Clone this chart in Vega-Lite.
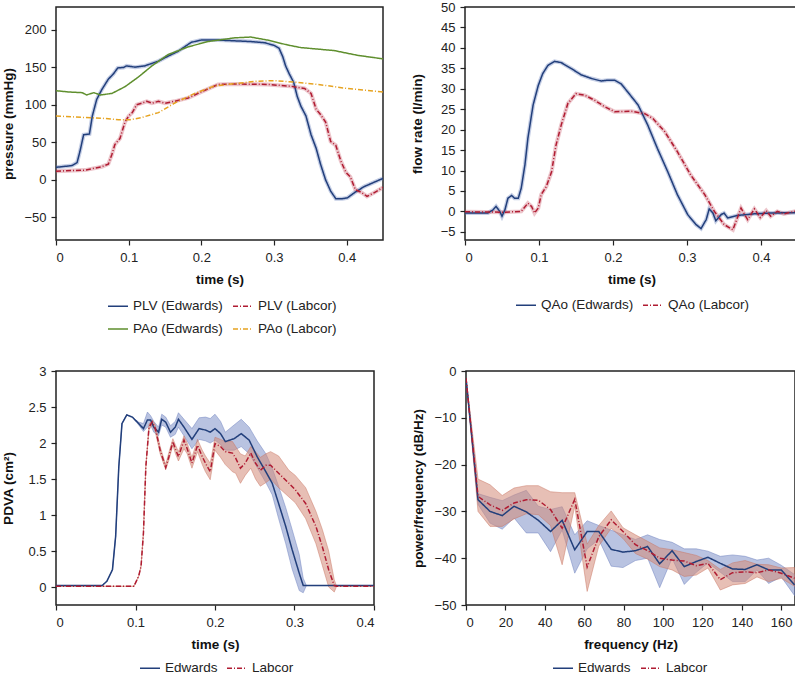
{
 "$schema": "https://vega.github.io/schema/vega-lite/v6.json",
 "padding": {"left": 0, "top": 0, "right": 2, "bottom": 0},
 "background": "white",
 "config": {
  "font": "Liberation Sans",
  "view": {"stroke": "#222", "strokeWidth": 1.5},
  "axis": {"grid": false, "domain": false, "tickColor": "#222", "tickSize": 5, "tickWidth": 1.2, "labelFontSize": 13, "labelColor": "#222", "labelFont": "Liberation Sans", "titleFont": "Liberation Sans", "titleFontSize": 13.5, "titleFontWeight": "bold", "titleColor": "#111", "labelPadding": 5},
  "axisY": {"minExtent": 37, "titlePadding": 4},
  "axisX": {"titlePadding": 8, "labelPadding": 6},
  "legend": {"labelFontSize": 13.5, "labelColor": "#222", "labelFont": "Liberation Sans", "symbolType": "stroke", "symbolSize": 400, "symbolStrokeWidth": 1.6, "labelOffset": 4}
 },
 "resolve": {"scale": {"color": "independent", "strokeDash": "independent"}},
 "spacing": 27,
 "vconcat": [
  {
   "spacing": 25,
   "resolve": {"scale": {"color": "independent", "strokeDash": "independent"}},
   "hconcat": [
    {
     "width": 327, "height": 233,
     "data": {"values": [
      {"s":"PLV (Edwards)","t":0,"v":16.7},{"s":"PLV (Edwards)","t":0.022,"v":19},{"s":"PLV (Edwards)","t":0.029,"v":23},{"s":"PLV (Edwards)","t":0.033,"v":38},{"s":"PLV (Edwards)","t":0.038,"v":60},{"s":"PLV (Edwards)","t":0.046,"v":61},{"s":"PLV (Edwards)","t":0.05,"v":85},{"s":"PLV (Edwards)","t":0.056,"v":107},{"s":"PLV (Edwards)","t":0.063,"v":120},{"s":"PLV (Edwards)","t":0.072,"v":134},{"s":"PLV (Edwards)","t":0.079,"v":141},{"s":"PLV (Edwards)","t":0.085,"v":149},{"s":"PLV (Edwards)","t":0.093,"v":149.5},{"s":"PLV (Edwards)","t":0.097,"v":151.6},{"s":"PLV (Edwards)","t":0.109,"v":150},{"s":"PLV (Edwards)","t":0.122,"v":151.6},{"s":"PLV (Edwards)","t":0.141,"v":158},{"s":"PLV (Edwards)","t":0.154,"v":164.5},{"s":"PLV (Edwards)","t":0.168,"v":171},{"s":"PLV (Edwards)","t":0.177,"v":177},{"s":"PLV (Edwards)","t":0.186,"v":183},{"s":"PLV (Edwards)","t":0.2,"v":186},{"s":"PLV (Edwards)","t":0.223,"v":186},{"s":"PLV (Edwards)","t":0.246,"v":185},{"s":"PLV (Edwards)","t":0.268,"v":184},{"s":"PLV (Edwards)","t":0.287,"v":182.5},{"s":"PLV (Edwards)","t":0.3,"v":179},{"s":"PLV (Edwards)","t":0.307,"v":175},{"s":"PLV (Edwards)","t":0.312,"v":164},{"s":"PLV (Edwards)","t":0.316,"v":151.6},{"s":"PLV (Edwards)","t":0.321,"v":141},{"s":"PLV (Edwards)","t":0.327,"v":130},{"s":"PLV (Edwards)","t":0.332,"v":111},{"s":"PLV (Edwards)","t":0.337,"v":98},{"s":"PLV (Edwards)","t":0.344,"v":85},{"s":"PLV (Edwards)","t":0.351,"v":60},{"s":"PLV (Edwards)","t":0.358,"v":42},{"s":"PLV (Edwards)","t":0.364,"v":21},{"s":"PLV (Edwards)","t":0.371,"v":0},{"s":"PLV (Edwards)","t":0.378,"v":-15},{"s":"PLV (Edwards)","t":0.385,"v":-25},{"s":"PLV (Edwards)","t":0.394,"v":-25},{"s":"PLV (Edwards)","t":0.401,"v":-24},{"s":"PLV (Edwards)","t":0.41,"v":-17.5},{"s":"PLV (Edwards)","t":0.424,"v":-9},{"s":"PLV (Edwards)","t":0.45,"v":2},
      {"s":"PLV (Labcor)","t":0,"v":11.6},{"s":"PLV (Labcor)","t":0.04,"v":13},{"s":"PLV (Labcor)","t":0.063,"v":17.5},{"s":"PLV (Labcor)","t":0.072,"v":21},{"s":"PLV (Labcor)","t":0.077,"v":34},{"s":"PLV (Labcor)","t":0.081,"v":47},{"s":"PLV (Labcor)","t":0.088,"v":55},{"s":"PLV (Labcor)","t":0.095,"v":77},{"s":"PLV (Labcor)","t":0.1,"v":85},{"s":"PLV (Labcor)","t":0.105,"v":89.5},{"s":"PLV (Labcor)","t":0.111,"v":100},{"s":"PLV (Labcor)","t":0.118,"v":102},{"s":"PLV (Labcor)","t":0.125,"v":104.5},{"s":"PLV (Labcor)","t":0.132,"v":102},{"s":"PLV (Labcor)","t":0.141,"v":104.5},{"s":"PLV (Labcor)","t":0.15,"v":102},{"s":"PLV (Labcor)","t":0.163,"v":104.5},{"s":"PLV (Labcor)","t":0.182,"v":109},{"s":"PLV (Labcor)","t":0.2,"v":117},{"s":"PLV (Labcor)","t":0.223,"v":127},{"s":"PLV (Labcor)","t":0.246,"v":127.6},{"s":"PLV (Labcor)","t":0.291,"v":127},{"s":"PLV (Labcor)","t":0.323,"v":124.6},{"s":"PLV (Labcor)","t":0.342,"v":121.6},{"s":"PLV (Labcor)","t":0.351,"v":115},{"s":"PLV (Labcor)","t":0.358,"v":94},{"s":"PLV (Labcor)","t":0.364,"v":87},{"s":"PLV (Labcor)","t":0.371,"v":77},{"s":"PLV (Labcor)","t":0.378,"v":51},{"s":"PLV (Labcor)","t":0.385,"v":46},{"s":"PLV (Labcor)","t":0.392,"v":25},{"s":"PLV (Labcor)","t":0.399,"v":10},{"s":"PLV (Labcor)","t":0.405,"v":4},{"s":"PLV (Labcor)","t":0.412,"v":-13},{"s":"PLV (Labcor)","t":0.421,"v":-17},{"s":"PLV (Labcor)","t":0.428,"v":-22},{"s":"PLV (Labcor)","t":0.437,"v":-17.5},{"s":"PLV (Labcor)","t":0.45,"v":-10},
      {"s":"PAo (Edwards)","t":0,"v":118.6},{"s":"PAo (Edwards)","t":0.017,"v":117},{"s":"PAo (Edwards)","t":0.036,"v":116},{"s":"PAo (Edwards)","t":0.042,"v":113},{"s":"PAo (Edwards)","t":0.052,"v":116},{"s":"PAo (Edwards)","t":0.061,"v":113},{"s":"PAo (Edwards)","t":0.077,"v":115},{"s":"PAo (Edwards)","t":0.095,"v":124},{"s":"PAo (Edwards)","t":0.113,"v":136.6},{"s":"PAo (Edwards)","t":0.132,"v":151.6},{"s":"PAo (Edwards)","t":0.154,"v":166.6},{"s":"PAo (Edwards)","t":0.182,"v":177},{"s":"PAo (Edwards)","t":0.209,"v":184},{"s":"PAo (Edwards)","t":0.246,"v":189},{"s":"PAo (Edwards)","t":0.268,"v":190},{"s":"PAo (Edwards)","t":0.291,"v":186},{"s":"PAo (Edwards)","t":0.319,"v":179.4},{"s":"PAo (Edwards)","t":0.337,"v":176},{"s":"PAo (Edwards)","t":0.383,"v":172},{"s":"PAo (Edwards)","t":0.415,"v":165.7},{"s":"PAo (Edwards)","t":0.45,"v":161},
      {"s":"PAo (Labcor)","t":0,"v":85},{"s":"PAo (Labcor)","t":0.04,"v":83},{"s":"PAo (Labcor)","t":0.063,"v":82},{"s":"PAo (Labcor)","t":0.086,"v":80},{"s":"PAo (Labcor)","t":0.102,"v":80},{"s":"PAo (Labcor)","t":0.118,"v":83},{"s":"PAo (Labcor)","t":0.141,"v":89.5},{"s":"PAo (Labcor)","t":0.163,"v":102},{"s":"PAo (Labcor)","t":0.191,"v":115},{"s":"PAo (Labcor)","t":0.218,"v":125},{"s":"PAo (Labcor)","t":0.246,"v":128},{"s":"PAo (Labcor)","t":0.273,"v":131},{"s":"PAo (Labcor)","t":0.3,"v":132},{"s":"PAo (Labcor)","t":0.328,"v":130},{"s":"PAo (Labcor)","t":0.36,"v":127},{"s":"PAo (Labcor)","t":0.401,"v":121.6},{"s":"PAo (Labcor)","t":0.45,"v":117}
     ]},
     "encoding": {
      "x": {"field": "t", "type": "quantitative", "scale": {"domain": [0, 0.45], "nice": false}, "axis": {"values": [0, 0.1, 0.2, 0.3, 0.4], "format": "~g", "title": "time (s)"}},
      "y": {"field": "v", "type": "quantitative", "scale": {"domain": [-80, 230], "nice": false, "zero": false}, "axis": {"values": [-50, 0, 50, 100, 150, 200], "title": "pressure (mmHg)"}}
     },
     "layer": [
      {"transform": [{"filter": "datum.s == 'PLV (Edwards)'"}],
       "mark": {"type": "line", "strokeWidth": 4, "opacity": 0.35, "clip": true, "stroke": "#5a73b5"}},
      {"transform": [{"filter": "datum.s == 'PLV (Labcor)'"}],
       "mark": {"type": "line", "strokeWidth": 4, "opacity": 0.35, "clip": true, "stroke": "#c85a6a"}},
      {"mark": {"type": "line", "strokeWidth": 1.5, "clip": true},
       "encoding": {
        "color": {"field": "s", "type": "nominal", "scale": {"domain": ["PLV (Edwards)", "PAo (Edwards)", "PLV (Labcor)", "PAo (Labcor)"], "range": ["#223f7b", "#5f8f2e", "#b01c32", "#e6a321"]}, "legend": {"title": null, "orient": "none", "legendX": 51, "legendY": 288, "columns": 2, "columnPadding": 6, "rowPadding": 5}},
        "strokeDash": {"field": "s", "type": "nominal", "scale": {"domain": ["PLV (Edwards)", "PAo (Edwards)", "PLV (Labcor)", "PAo (Labcor)"], "range": [[1, 0], [1, 0], [5, 2, 1, 2], [5, 2, 1, 2]]}, "legend": {"title": null, "orient": "none", "legendX": 51, "legendY": 288, "columns": 2, "columnPadding": 6, "rowPadding": 5}}
       }}
     ]
    },
    {
     "width": 333, "height": 233,
     "data": {"values": [
      {"s":"QAo (Edwards)","t":0,"v":-0.4},{"s":"QAo (Edwards)","t":0.031,"v":-0.4},{"s":"QAo (Edwards)","t":0.038,"v":0.4},{"s":"QAo (Edwards)","t":0.042,"v":1.2},{"s":"QAo (Edwards)","t":0.047,"v":0},{"s":"QAo (Edwards)","t":0.05,"v":-1.2},{"s":"QAo (Edwards)","t":0.054,"v":0.4},{"s":"QAo (Edwards)","t":0.058,"v":3.2},{"s":"QAo (Edwards)","t":0.063,"v":3.9},{"s":"QAo (Edwards)","t":0.067,"v":3.2},{"s":"QAo (Edwards)","t":0.072,"v":3.2},{"s":"QAo (Edwards)","t":0.076,"v":5.7},{"s":"QAo (Edwards)","t":0.081,"v":11.4},{"s":"QAo (Edwards)","t":0.085,"v":17.9},{"s":"QAo (Edwards)","t":0.092,"v":26},{"s":"QAo (Edwards)","t":0.099,"v":30.8},{"s":"QAo (Edwards)","t":0.105,"v":33.7},{"s":"QAo (Edwards)","t":0.112,"v":35.7},{"s":"QAo (Edwards)","t":0.121,"v":36.7},{"s":"QAo (Edwards)","t":0.13,"v":36.4},{"s":"QAo (Edwards)","t":0.144,"v":34.9},{"s":"QAo (Edwards)","t":0.157,"v":33.4},{"s":"QAo (Edwards)","t":0.171,"v":32.5},{"s":"QAo (Edwards)","t":0.184,"v":31.9},{"s":"QAo (Edwards)","t":0.193,"v":32.1},{"s":"QAo (Edwards)","t":0.202,"v":32.1},{"s":"QAo (Edwards)","t":0.211,"v":31.2},{"s":"QAo (Edwards)","t":0.22,"v":29.2},{"s":"QAo (Edwards)","t":0.234,"v":26},{"s":"QAo (Edwards)","t":0.247,"v":21.1},{"s":"QAo (Edwards)","t":0.26,"v":15.4},{"s":"QAo (Edwards)","t":0.274,"v":9.7},{"s":"QAo (Edwards)","t":0.287,"v":4.1},{"s":"QAo (Edwards)","t":0.301,"v":-0.8},{"s":"QAo (Edwards)","t":0.312,"v":-3.2},{"s":"QAo (Edwards)","t":0.319,"v":-4.2},{"s":"QAo (Edwards)","t":0.326,"v":-2},{"s":"QAo (Edwards)","t":0.33,"v":0.6},{"s":"QAo (Edwards)","t":0.335,"v":-0.4},{"s":"QAo (Edwards)","t":0.339,"v":-2.3},{"s":"QAo (Edwards)","t":0.346,"v":-0.8},{"s":"QAo (Edwards)","t":0.35,"v":-0.4},{"s":"QAo (Edwards)","t":0.355,"v":-1.6},{"s":"QAo (Edwards)","t":0.368,"v":-1},{"s":"QAo (Edwards)","t":0.391,"v":-0.6},{"s":"QAo (Edwards)","t":0.413,"v":-0.4},{"s":"QAo (Edwards)","t":0.45,"v":-0.3},
      {"s":"QAo (Labcor)","t":0,"v":-0.1},{"s":"QAo (Labcor)","t":0.054,"v":-0.2},{"s":"QAo (Labcor)","t":0.076,"v":0},{"s":"QAo (Labcor)","t":0.085,"v":2},{"s":"QAo (Labcor)","t":0.09,"v":1.2},{"s":"QAo (Labcor)","t":0.094,"v":-0.4},{"s":"QAo (Labcor)","t":0.099,"v":0.8},{"s":"QAo (Labcor)","t":0.103,"v":4.1},{"s":"QAo (Labcor)","t":0.11,"v":6.1},{"s":"QAo (Labcor)","t":0.117,"v":9.7},{"s":"QAo (Labcor)","t":0.123,"v":16.2},{"s":"QAo (Labcor)","t":0.13,"v":21.1},{"s":"QAo (Labcor)","t":0.139,"v":26.4},{"s":"QAo (Labcor)","t":0.15,"v":28.8},{"s":"QAo (Labcor)","t":0.162,"v":28.4},{"s":"QAo (Labcor)","t":0.175,"v":27.2},{"s":"QAo (Labcor)","t":0.189,"v":25.6},{"s":"QAo (Labcor)","t":0.202,"v":24.4},{"s":"QAo (Labcor)","t":0.225,"v":24.5},{"s":"QAo (Labcor)","t":0.243,"v":23.9},{"s":"QAo (Labcor)","t":0.254,"v":22.7},{"s":"QAo (Labcor)","t":0.27,"v":19.5},{"s":"QAo (Labcor)","t":0.287,"v":14.6},{"s":"QAo (Labcor)","t":0.305,"v":8.9},{"s":"QAo (Labcor)","t":0.324,"v":4.1},{"s":"QAo (Labcor)","t":0.337,"v":0},{"s":"QAo (Labcor)","t":0.35,"v":-3.2},{"s":"QAo (Labcor)","t":0.362,"v":-4.5},{"s":"QAo (Labcor)","t":0.368,"v":-1.6},{"s":"QAo (Labcor)","t":0.373,"v":0.8},{"s":"QAo (Labcor)","t":0.378,"v":-0.8},{"s":"QAo (Labcor)","t":0.382,"v":-2},{"s":"QAo (Labcor)","t":0.391,"v":0.6},{"s":"QAo (Labcor)","t":0.399,"v":-1.5},{"s":"QAo (Labcor)","t":0.407,"v":0.2},{"s":"QAo (Labcor)","t":0.413,"v":-1.2},{"s":"QAo (Labcor)","t":0.422,"v":0},{"s":"QAo (Labcor)","t":0.431,"v":-0.6},{"s":"QAo (Labcor)","t":0.45,"v":0.2}
     ]},
     "encoding": {
      "x": {"field": "t", "type": "quantitative", "scale": {"domain": [0, 0.45], "nice": false}, "axis": {"values": [0, 0.1, 0.2, 0.3, 0.4], "format": "~g", "title": "time (s)"}},
      "y": {"field": "v", "type": "quantitative", "scale": {"domain": [-7, 50], "nice": false, "zero": false}, "axis": {"values": [-5, 0, 5, 10, 15, 20, 25, 30, 35, 40, 45, 50], "title": "flow rate (l/min)"}}
     },
     "layer": [
      {"transform": [{"filter": "datum.s == 'QAo (Edwards)'"}],
       "mark": {"type": "line", "strokeWidth": 4, "opacity": 0.35, "clip": true, "stroke": "#5a73b5"}},
      {"transform": [{"filter": "datum.s == 'QAo (Labcor)'"}],
       "mark": {"type": "line", "strokeWidth": 4, "opacity": 0.35, "clip": true, "stroke": "#c85a6a"}},
      {"mark": {"type": "line", "strokeWidth": 1.5, "clip": true},
       "encoding": {
        "color": {"field": "s", "type": "nominal", "scale": {"domain": ["QAo (Edwards)", "QAo (Labcor)"], "range": ["#223f7b", "#b01c32"]}, "legend": {"title": null, "orient": "none", "legendX": 50, "legendY": 287, "direction": "horizontal", "columnPadding": 5}},
        "strokeDash": {"field": "s", "type": "nominal", "scale": {"domain": ["QAo (Edwards)", "QAo (Labcor)"], "range": [[1, 0], [5, 2, 1, 2]]}, "legend": {"title": null, "orient": "none", "legendX": 50, "legendY": 287, "direction": "horizontal", "columnPadding": 5}}
       }}
     ]
    }
   ]
  },
  {
   "spacing": 34,
   "resolve": {"scale": {"color": "independent", "strokeDash": "independent"}},
   "hconcat": [
    {
     "width": 318, "height": 234,
     "data": {"values": [
      {"s":"Edwards","t":0,"v":0.02,"lo":0.02,"hi":0.02},{"s":"Edwards","t":0.058,"v":0.02,"lo":0.02,"hi":0.02},{"s":"Edwards","t":0.064,"v":0.08,"lo":0.08,"hi":0.08},{"s":"Edwards","t":0.071,"v":0.24,"lo":0.24,"hi":0.24},{"s":"Edwards","t":0.075,"v":0.7,"lo":0.7,"hi":0.7},{"s":"Edwards","t":0.079,"v":1.67,"lo":1.67,"hi":1.67},{"s":"Edwards","t":0.083,"v":2.27,"lo":2.27,"hi":2.27},{"s":"Edwards","t":0.089,"v":2.39,"lo":2.39,"hi":2.39},{"s":"Edwards","t":0.096,"v":2.36,"lo":2.36,"hi":2.36},{"s":"Edwards","t":0.104,"v":2.27,"lo":2.25,"hi":2.29},{"s":"Edwards","t":0.11,"v":2.2,"lo":2.16,"hi":2.27},{"s":"Edwards","t":0.115,"v":2.32,"lo":2.22,"hi":2.43},{"s":"Edwards","t":0.119,"v":2.32,"lo":2.25,"hi":2.38},{"s":"Edwards","t":0.123,"v":2.22,"lo":2.15,"hi":2.3},{"s":"Edwards","t":0.129,"v":2.15,"lo":2.1,"hi":2.22},{"s":"Edwards","t":0.133,"v":2.33,"lo":2.25,"hi":2.4},{"s":"Edwards","t":0.138,"v":2.29,"lo":2.22,"hi":2.36},{"s":"Edwards","t":0.144,"v":2.15,"lo":2.08,"hi":2.24},{"s":"Edwards","t":0.15,"v":2.22,"lo":2.12,"hi":2.3},{"s":"Edwards","t":0.154,"v":2.33,"lo":2.22,"hi":2.42},{"s":"Edwards","t":0.161,"v":2.22,"lo":2.1,"hi":2.33},{"s":"Edwards","t":0.171,"v":2.05,"lo":1.92,"hi":2.2},{"s":"Edwards","t":0.18,"v":2.2,"lo":2.05,"hi":2.35},{"s":"Edwards","t":0.188,"v":2.18,"lo":2.03,"hi":2.36},{"s":"Edwards","t":0.194,"v":2.15,"lo":2.0,"hi":2.34},{"s":"Edwards","t":0.2,"v":2.2,"lo":2.04,"hi":2.4},{"s":"Edwards","t":0.207,"v":2.13,"lo":1.98,"hi":2.3},{"s":"Edwards","t":0.213,"v":2.02,"lo":1.9,"hi":2.15},{"s":"Edwards","t":0.224,"v":2.06,"lo":1.9,"hi":2.25},{"s":"Edwards","t":0.233,"v":2.13,"lo":1.95,"hi":2.33},{"s":"Edwards","t":0.243,"v":2.04,"lo":1.85,"hi":2.22},{"s":"Edwards","t":0.253,"v":1.81,"lo":1.66,"hi":2.03},{"s":"Edwards","t":0.264,"v":1.6,"lo":1.45,"hi":1.85},{"s":"Edwards","t":0.272,"v":1.44,"lo":1.28,"hi":1.65},{"s":"Edwards","t":0.28,"v":1.16,"lo":0.95,"hi":1.4},{"s":"Edwards","t":0.289,"v":0.84,"lo":0.6,"hi":1.1},{"s":"Edwards","t":0.297,"v":0.52,"lo":0.25,"hi":0.8},{"s":"Edwards","t":0.306,"v":0.19,"lo":-0.05,"hi":0.45},{"s":"Edwards","t":0.311,"v":0.02,"lo":-0.08,"hi":0.12},{"s":"Edwards","t":0.315,"v":0.02,"lo":0.02,"hi":0.02},{"s":"Edwards","t":0.4,"v":0.02,"lo":0.02,"hi":0.02},
      {"s":"Labcor","t":0,"v":0.01,"lo":0.01,"hi":0.01},{"s":"Labcor","t":0.098,"v":0.01,"lo":0.01,"hi":0.01},{"s":"Labcor","t":0.104,"v":0.15,"lo":0.15,"hi":0.15},{"s":"Labcor","t":0.107,"v":0.29,"lo":0.29,"hi":0.29},{"s":"Labcor","t":0.11,"v":0.75,"lo":0.75,"hi":0.75},{"s":"Labcor","t":0.113,"v":1.67,"lo":1.67,"hi":1.67},{"s":"Labcor","t":0.117,"v":2.22,"lo":2.18,"hi":2.26},{"s":"Labcor","t":0.121,"v":2.29,"lo":2.25,"hi":2.32},{"s":"Labcor","t":0.125,"v":2.2,"lo":2.15,"hi":2.25},{"s":"Labcor","t":0.131,"v":1.9,"lo":1.85,"hi":1.95},{"s":"Labcor","t":0.138,"v":1.66,"lo":1.63,"hi":1.7},{"s":"Labcor","t":0.142,"v":1.81,"lo":1.76,"hi":1.87},{"s":"Labcor","t":0.147,"v":2.02,"lo":1.97,"hi":2.06},{"s":"Labcor","t":0.15,"v":1.92,"lo":1.86,"hi":1.98},{"s":"Labcor","t":0.154,"v":1.81,"lo":1.75,"hi":1.88},{"s":"Labcor","t":0.161,"v":2.04,"lo":1.92,"hi":2.1},{"s":"Labcor","t":0.165,"v":1.92,"lo":1.85,"hi":2.0},{"s":"Labcor","t":0.171,"v":1.72,"lo":1.65,"hi":1.8},{"s":"Labcor","t":0.178,"v":1.97,"lo":1.88,"hi":2.05},{"s":"Labcor","t":0.184,"v":1.81,"lo":1.7,"hi":1.9},{"s":"Labcor","t":0.188,"v":1.72,"lo":1.6,"hi":1.82},{"s":"Labcor","t":0.194,"v":1.6,"lo":1.49,"hi":1.72},{"s":"Labcor","t":0.2,"v":1.99,"lo":1.9,"hi":2.08},{"s":"Labcor","t":0.207,"v":1.95,"lo":1.8,"hi":2.05},{"s":"Labcor","t":0.213,"v":1.88,"lo":1.7,"hi":2.02},{"s":"Labcor","t":0.222,"v":1.86,"lo":1.6,"hi":2.02},{"s":"Labcor","t":0.226,"v":1.79,"lo":1.58,"hi":1.95},{"s":"Labcor","t":0.232,"v":1.65,"lo":1.44,"hi":1.85},{"s":"Labcor","t":0.238,"v":1.72,"lo":1.55,"hi":1.82},{"s":"Labcor","t":0.245,"v":1.86,"lo":1.65,"hi":1.95},{"s":"Labcor","t":0.251,"v":1.72,"lo":1.5,"hi":1.88},{"s":"Labcor","t":0.257,"v":1.62,"lo":1.4,"hi":1.8},{"s":"Labcor","t":0.264,"v":1.69,"lo":1.45,"hi":1.85},{"s":"Labcor","t":0.27,"v":1.69,"lo":1.5,"hi":1.88},{"s":"Labcor","t":0.28,"v":1.58,"lo":1.38,"hi":1.82},{"s":"Labcor","t":0.293,"v":1.44,"lo":1.25,"hi":1.62},{"s":"Labcor","t":0.301,"v":1.35,"lo":1.17,"hi":1.55},{"s":"Labcor","t":0.314,"v":1.16,"lo":0.95,"hi":1.38},{"s":"Labcor","t":0.327,"v":0.84,"lo":0.6,"hi":1.05},{"s":"Labcor","t":0.335,"v":0.56,"lo":0.3,"hi":0.8},{"s":"Labcor","t":0.343,"v":0.24,"lo":0.0,"hi":0.5},{"s":"Labcor","t":0.35,"v":0.02,"lo":-0.07,"hi":0.1},{"s":"Labcor","t":0.353,"v":0.01,"lo":0.01,"hi":0.01},{"s":"Labcor","t":0.4,"v":0.01,"lo":0.01,"hi":0.01}
     ]},
     "encoding": {
      "x": {"field": "t", "type": "quantitative", "scale": {"domain": [0, 0.4], "nice": false}, "axis": {"values": [0, 0.1, 0.2, 0.3, 0.4], "format": "~g", "title": "time (s)"}},
      "y": {"field": "v", "type": "quantitative", "scale": {"domain": [-0.25, 3], "nice": false, "zero": false}, "axis": {"values": [0, 0.5, 1, 1.5, 2, 2.5, 3], "format": "~g", "title": "PDVA (cm²)"}}
     },
     "layer": [
      {"transform": [{"filter": "datum.s == 'Edwards'"}],
       "mark": {"type": "area", "fill": "#7f92c9", "fillOpacity": 0.55, "stroke": "#6b7fbd", "strokeOpacity": 0.6, "strokeWidth": 0.8, "clip": true},
       "encoding": {"y": {"field": "lo", "type": "quantitative"}, "y2": {"field": "hi"}}},
      {"transform": [{"filter": "datum.s == 'Labcor'"}],
       "mark": {"type": "area", "fill": "#d48a78", "fillOpacity": 0.55, "stroke": "#c87460", "strokeOpacity": 0.6, "strokeWidth": 0.8, "clip": true},
       "encoding": {"y": {"field": "lo", "type": "quantitative"}, "y2": {"field": "hi"}}},
      {"mark": {"type": "line", "strokeWidth": 1.5, "clip": true},
       "encoding": {
        "color": {"field": "s", "type": "nominal", "scale": {"domain": ["Edwards", "Labcor"], "range": ["#223f7b", "#b01c32"]}, "legend": {"title": null, "orient": "none", "legendX": 83, "legendY": 286, "direction": "horizontal", "columnPadding": 5}},
        "strokeDash": {"field": "s", "type": "nominal", "scale": {"domain": ["Edwards", "Labcor"], "range": [[1, 0], [5, 2, 1, 2]]}, "legend": {"title": null, "orient": "none", "legendX": 83, "legendY": 286, "direction": "horizontal", "columnPadding": 5}}
       }}
     ]
    },
    {
     "width": 329, "height": 234,
     "data": {"values": [
      {"s":"Edwards","t":0,"v":-1.5,"lo":-1.5,"hi":-1.5},{"s":"Edwards","t":6.1,"v":-27.5,"lo":-28.5,"hi":-26.2},{"s":"Edwards","t":12.2,"v":-30,"lo":-32.5,"hi":-27},{"s":"Edwards","t":18.4,"v":-30.9,"lo":-33.8,"hi":-27.7},{"s":"Edwards","t":24.4,"v":-28.9,"lo":-31.4,"hi":-26.5},{"s":"Edwards","t":30.6,"v":-30.1,"lo":-34.6,"hi":-25.5},{"s":"Edwards","t":36.7,"v":-31.9,"lo":-34.6,"hi":-28.9},{"s":"Edwards","t":42.9,"v":-34.3,"lo":-38.6,"hi":-29.6},{"s":"Edwards","t":48.8,"v":-31.9,"lo":-34,"hi":-29},{"s":"Edwards","t":55.2,"v":-38.2,"lo":-43.2,"hi":-35},{"s":"Edwards","t":61.5,"v":-34.3,"lo":-38,"hi":-32},{"s":"Edwards","t":67.4,"v":-34.3,"lo":-36,"hi":-33},{"s":"Edwards","t":73.7,"v":-38.1,"lo":-41.7,"hi":-34},{"s":"Edwards","t":79.7,"v":-38.7,"lo":-42,"hi":-35},{"s":"Edwards","t":86,"v":-38.4,"lo":-40.5,"hi":-36},{"s":"Edwards","t":92.2,"v":-37.5,"lo":-40,"hi":-35},{"s":"Edwards","t":98.3,"v":-41.2,"lo":-46.3,"hi":-36},{"s":"Edwards","t":104.6,"v":-38.4,"lo":-40,"hi":-36.6},{"s":"Edwards","t":110.8,"v":-41.8,"lo":-45.6,"hi":-38},{"s":"Edwards","t":116.9,"v":-40.7,"lo":-43,"hi":-38},{"s":"Edwards","t":122.8,"v":-39.8,"lo":-41,"hi":-38.5},{"s":"Edwards","t":129.1,"v":-41.1,"lo":-43,"hi":-39.6},{"s":"Edwards","t":135.3,"v":-42.3,"lo":-45,"hi":-39.3},{"s":"Edwards","t":141.7,"v":-42.4,"lo":-45,"hi":-39.6},{"s":"Edwards","t":147.7,"v":-41.4,"lo":-42.5,"hi":-40.4},{"s":"Edwards","t":153.6,"v":-42.5,"lo":-45.4,"hi":-40},{"s":"Edwards","t":160,"v":-42.5,"lo":-44,"hi":-41.5},{"s":"Edwards","t":166.8,"v":-45.7,"lo":-48,"hi":-43.5},
      {"s":"Labcor","t":0,"v":-1.5,"lo":-1.5,"hi":-1.5},{"s":"Labcor","t":6.1,"v":-26.8,"lo":-30,"hi":-23.1},{"s":"Labcor","t":12.2,"v":-28.6,"lo":-33.2,"hi":-24.3},{"s":"Labcor","t":18.4,"v":-29.8,"lo":-33.2,"hi":-26.6},{"s":"Labcor","t":24.4,"v":-28.2,"lo":-31.6,"hi":-25},{"s":"Labcor","t":30.6,"v":-27.5,"lo":-30.5,"hi":-24.5},{"s":"Labcor","t":36.7,"v":-27.6,"lo":-30.7,"hi":-24.5},{"s":"Labcor","t":42.9,"v":-29.6,"lo":-33,"hi":-25.8},{"s":"Labcor","t":48.8,"v":-33.6,"lo":-41.4,"hi":-26},{"s":"Labcor","t":55.2,"v":-27.4,"lo":-28.9,"hi":-26},{"s":"Labcor","t":61.5,"v":-41.9,"lo":-47.1,"hi":-37},{"s":"Labcor","t":67.4,"v":-35.4,"lo":-37.4,"hi":-33},{"s":"Labcor","t":73.7,"v":-31.8,"lo":-33.6,"hi":-29.9},{"s":"Labcor","t":79.7,"v":-34.3,"lo":-35.8,"hi":-33.5},{"s":"Labcor","t":86,"v":-37.1,"lo":-39,"hi":-35},{"s":"Labcor","t":92.2,"v":-38.4,"lo":-40.2,"hi":-36.4},{"s":"Labcor","t":98.3,"v":-40,"lo":-41.8,"hi":-37.8},{"s":"Labcor","t":104.6,"v":-40.4,"lo":-42.5,"hi":-38.2},{"s":"Labcor","t":110.8,"v":-40.6,"lo":-43.9,"hi":-38.8},{"s":"Labcor","t":116.9,"v":-41.6,"lo":-43.6,"hi":-39.4},{"s":"Labcor","t":122.8,"v":-41.1,"lo":-42.1,"hi":-40.5},{"s":"Labcor","t":129.1,"v":-44.6,"lo":-46.8,"hi":-42.4},{"s":"Labcor","t":135.3,"v":-43.1,"lo":-45.7,"hi":-41},{"s":"Labcor","t":141.7,"v":-42.9,"lo":-45.4,"hi":-40.5},{"s":"Labcor","t":147.7,"v":-43.1,"lo":-44,"hi":-41.3},{"s":"Labcor","t":153.6,"v":-42.5,"lo":-45,"hi":-41.4},{"s":"Labcor","t":160,"v":-43.2,"lo":-44.3,"hi":-42.1},{"s":"Labcor","t":166.8,"v":-44.3,"lo":-46,"hi":-42}
     ]},
     "encoding": {
      "x": {"field": "t", "type": "quantitative", "scale": {"domain": [0, 167], "nice": false}, "axis": {"values": [0, 20, 40, 60, 80, 100, 120, 140, 160], "title": "frequency (Hz)"}},
      "y": {"field": "v", "type": "quantitative", "scale": {"domain": [-50, 0], "nice": false, "zero": false}, "axis": {"values": [-50, -40, -30, -20, -10, 0], "title": "power/frequency (dB/Hz)"}}
     },
     "layer": [
      {"transform": [{"filter": "datum.s == 'Edwards'"}],
       "mark": {"type": "area", "fill": "#7f92c9", "fillOpacity": 0.55, "stroke": "#6b7fbd", "strokeOpacity": 0.6, "strokeWidth": 0.8, "clip": true},
       "encoding": {"y": {"field": "lo", "type": "quantitative"}, "y2": {"field": "hi"}}},
      {"transform": [{"filter": "datum.s == 'Labcor'"}],
       "mark": {"type": "area", "fill": "#d48a78", "fillOpacity": 0.55, "stroke": "#c87460", "strokeOpacity": 0.6, "strokeWidth": 0.8, "clip": true},
       "encoding": {"y": {"field": "lo", "type": "quantitative"}, "y2": {"field": "hi"}}},
      {"mark": {"type": "line", "strokeWidth": 1.5, "clip": true},
       "encoding": {
        "color": {"field": "s", "type": "nominal", "scale": {"domain": ["Edwards", "Labcor"], "range": ["#223f7b", "#b01c32"]}, "legend": {"title": null, "orient": "none", "legendX": 86, "legendY": 286, "direction": "horizontal", "columnPadding": 6}},
        "strokeDash": {"field": "s", "type": "nominal", "scale": {"domain": ["Edwards", "Labcor"], "range": [[1, 0], [5, 2, 1, 2]]}, "legend": {"title": null, "orient": "none", "legendX": 86, "legendY": 286, "direction": "horizontal", "columnPadding": 6}}
       }}
     ]
    }
   ]
  }
 ]
}
